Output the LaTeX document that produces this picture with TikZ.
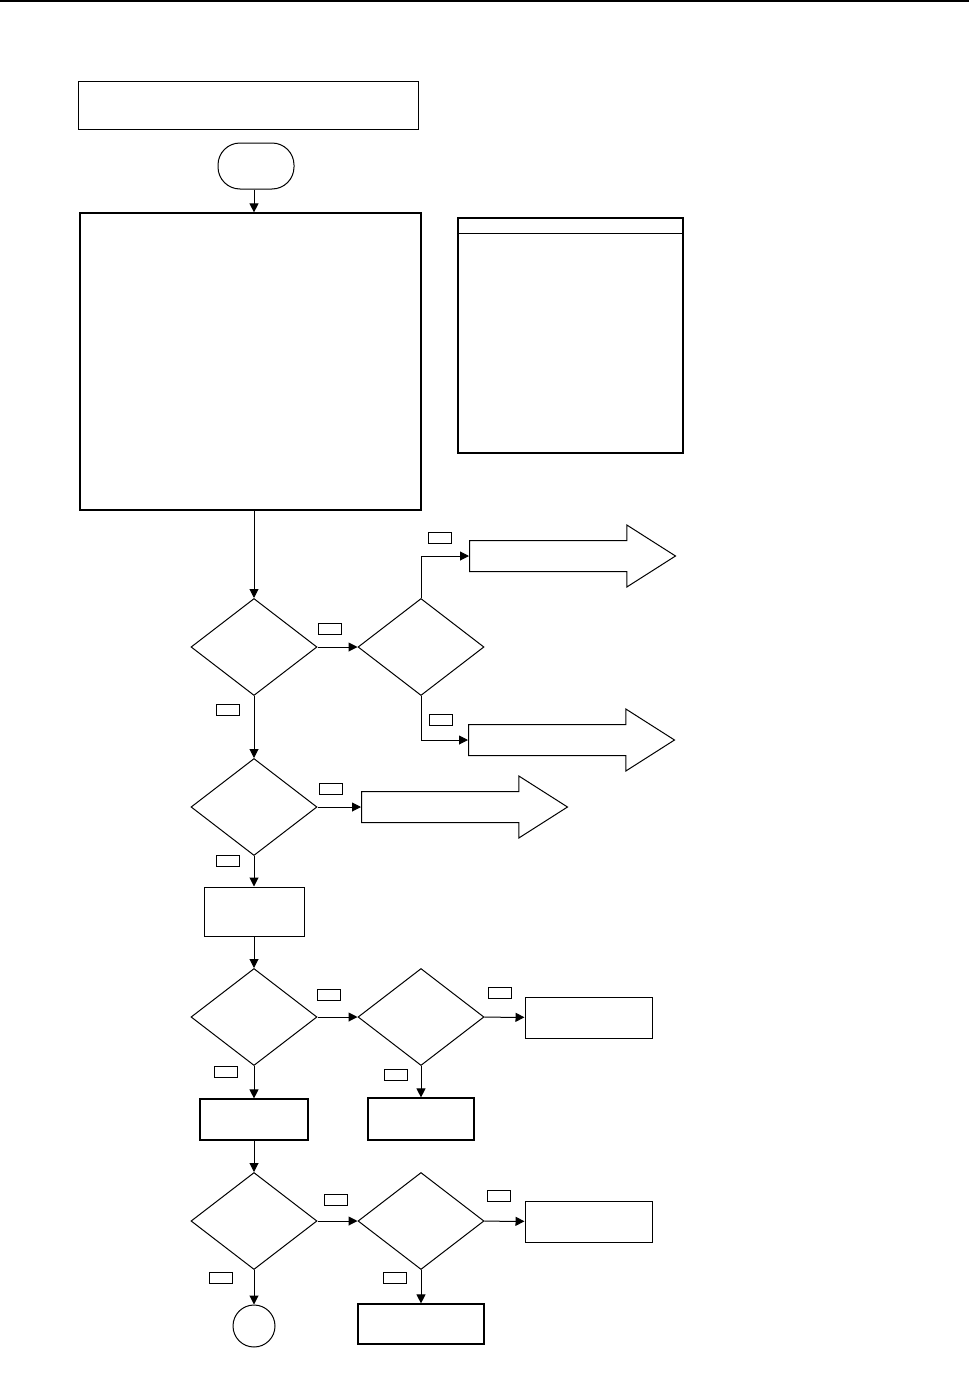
\documentclass[tikz,border=0pt]{standalone}
\usetikzlibrary{shapes.geometric,shapes.arrows,arrows.meta,positioning,calc}

\begin{document}
\begin{tikzpicture}[
      x=1pt, y=-1pt,
      line width=1pt,
      >={Triangle[length=9pt,width=9pt]},
      box/.style={draw, inner sep=0pt},
      decision/.style={draw, diamond, inner sep=0pt, minimum width=126pt, minimum height=97pt},
      bigarrow/.style={draw, single arrow, inner xsep=0pt, inner ysep=15pt, minimum height=206pt,
                       minimum width=61pt, single arrow head extend=15.5pt,
                       single arrow tip angle=65, anchor=tail},
      tag/.style={draw, line width=0.8pt, inner sep=0pt, minimum width=23pt, minimum height=11pt}
    ]
    \useasboundingbox (0,0) rectangle (969,1389);
    \draw[line width=2pt] (0,1) -- (969,1);

    % header and start
    \node[box, minimum width=340pt, minimum height=48pt] (title) at (248,105) {};
    \node[box, rounded corners=22pt, minimum width=76pt, minimum height=46pt] (start) at (256,166) {};
    \node[box, line width=1.2pt, minimum width=341pt, minimum height=297pt] (main) at (250.5,361.5) {};
    \node[box, line width=1.2pt, minimum width=225pt, minimum height=235pt] (side) at (570.5,335.5) {};
    \draw[line width=1.5pt] ($(side.north west)+(0,16)$) -- ($(side.north east)+(0,16)$);

    % decisions
    \node[decision] (d1) at (254,647) {};
    \node[decision] (d2) at (421,647) {};
    \node[decision] (d3) at (254,807) {};
    \node[decision] (d4) at (254,1017) {};
    \node[decision] (d5) at (421,1017) {};
    \node[decision] (d6) at (254,1221) {};
    \node[decision] (d7) at (421,1221) {};

    % exits
    \node[bigarrow] (a1) at (469,556) {};
    \node[bigarrow] (a2) at (468,740) {};
    \node[bigarrow] (a3) at (361,807) {};

    % process boxes
    \node[box, minimum width=100pt, minimum height=49pt] (proc) at (254,911.5) {};
    \node[box, minimum width=127pt, minimum height=41pt] (r1) at (588.5,1017.5) {};
    \node[box, line width=1.2pt, minimum width=108pt, minimum height=41pt] (b4) at (254,1119.5) {};
    \node[box, line width=1.2pt, minimum width=106pt, minimum height=42pt] (b5) at (421,1119) {};
    \node[box, minimum width=127pt, minimum height=41pt] (r2) at (588.5,1221.5) {};
    \node[box, line width=1.2pt, minimum width=126pt, minimum height=40pt] (b7) at (421,1324) {};
    \node[draw, circle, inner sep=0pt, minimum size=42pt] (stop) at (254,1326) {};

    % connectors
    \draw[->] (start.south -| d1) -- (main.north -| d1);
    \draw[->] (main.south -| d1) -- (d1);
    \draw[->] (d1) -- (d2);
    \draw[->] (d2.north) |- (a1.tail);
    \draw[->] (d2.south) |- (a2.tail);
    \draw[->] (d1) -- (d3);
    \draw[->] (d3) -- (a3.tail);
    \draw[->] (d3) -- (proc);
    \draw[->] (proc) -- (d4);
    \draw[->] (d4) -- (d5);
    \draw[->] (d5) -- (r1);
    \draw[->] (d5) -- (b5);
    \draw[->] (d4) -- (b4);
    \draw[->] (b4) -- (d6);
    \draw[->] (d6) -- (d7);
    \draw[->] (d7) -- (r2);
    \draw[->] (d7) -- (b7);
    \draw[->] (d6) -- (stop);

    % branch tags
    \node[tag] (t1) at (330,629) {};
    \node[tag] (t2) at (440,538) {};
    \node[tag] (t3) at (441,720) {};
    \node[tag] (t4) at (227.5,710) {};
    \node[tag] (t5) at (331,789) {};
    \node[tag] (t6) at (227.5,860.5) {};
    \node[tag] (t7) at (329,995) {};
    \node[tag] (t8) at (500,993) {};
    \node[tag] (t9) at (395.5,1075) {};
    \node[tag] (t10) at (225.5,1072) {};
    \node[tag] (t11) at (335.5,1200) {};
    \node[tag] (t12) at (498.5,1196) {};
    \node[tag] (t13) at (394.5,1278) {};
    \node[tag] (t14) at (221,1278) {};
  \end{tikzpicture}
\end{document}
